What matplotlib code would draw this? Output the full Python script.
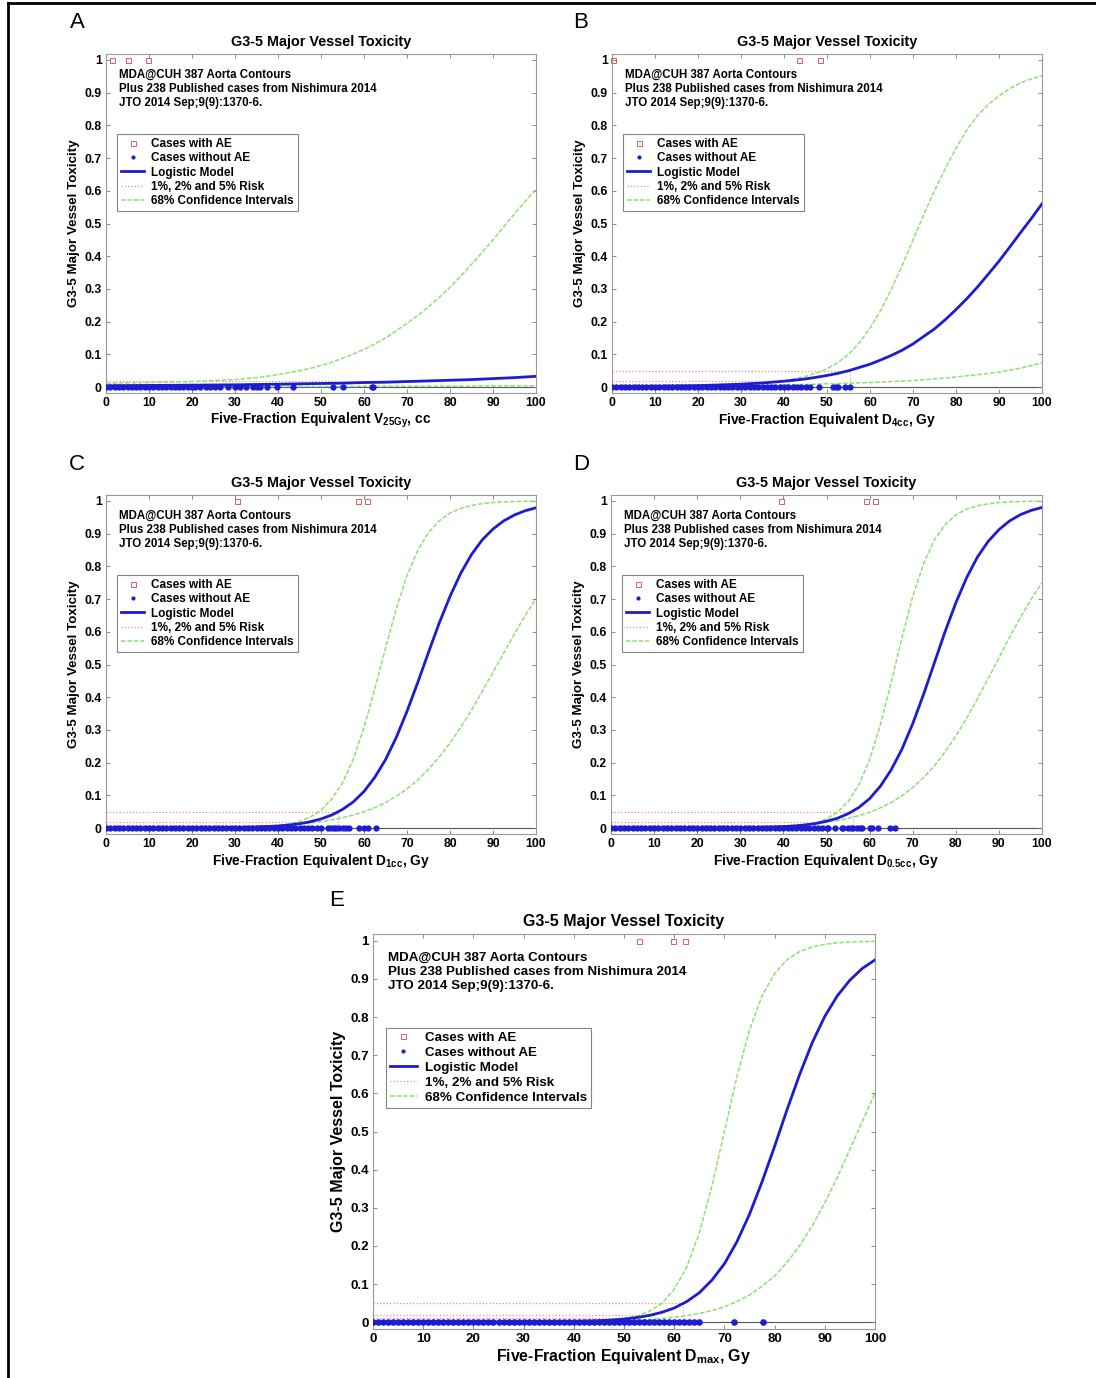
import matplotlib
matplotlib.use("Agg")
import matplotlib.pyplot as plt
from matplotlib.lines import Line2D

plt.rcParams['font.family'] = ['Liberation Sans', 'DejaVu Sans']
plt.rcParams['font.weight'] = 'bold'
plt.rcParams['mathtext.fontset'] = 'custom'
plt.rcParams['mathtext.rm'] = 'Liberation Sans:bold'
plt.rcParams['mathtext.it'] = 'Liberation Sans:bold'
plt.rcParams['mathtext.bf'] = 'Liberation Sans:bold'

W, H = 1096, 1378

# ---- data ----
DOSE = [0, 10, 20, 30, 35, 40, 42.5, 45, 47.5, 50, 52.5, 55, 57.5, 60, 62.5, 65, 67.5, 70,
        72.5, 75, 77.5, 80, 82.5, 85, 87.5, 90, 92.5, 95, 97.5, 100]
RISKS = [0.01, 0.02, 0.05]
X_TICKS = [0, 10, 20, 30, 40, 50, 60, 70, 80, 90, 100]
Y_TICKS = [0, 0.1, 0.2, 0.3, 0.4, 0.5, 0.6, 0.7, 0.8, 0.9, 1]
Y_TICK_LABELS = ['0', '0.1', '0.2', '0.3', '0.4', '0.5', '0.6', '0.7', '0.8', '0.9', '1']

# A: V25Gy
A_MODEL = [0.004, 0.005, 0.006, 0.007, 0.008, 0.009, 0.0095, 0.010, 0.0105, 0.011, 0.0115, 0.012,
           0.013, 0.014, 0.0145, 0.015, 0.016, 0.017, 0.018, 0.019, 0.020, 0.021, 0.022, 0.023,
           0.0245, 0.026, 0.0275, 0.029, 0.031, 0.033]
A_UPPER = [0.012, 0.014, 0.017, 0.023, 0.029, 0.038, 0.044, 0.050, 0.057, 0.066, 0.076, 0.088,
           0.101, 0.115, 0.132, 0.150, 0.172, 0.195, 0.219, 0.245, 0.274, 0.305, 0.339, 0.375,
           0.412, 0.450, 0.490, 0.530, 0.568, 0.605]
A_LOWER = [0.001, 0.001, 0.001, 0.002, 0.002, 0.002, 0.002, 0.002, 0.002, 0.002, 0.002, 0.002,
           0.002, 0.003, 0.003, 0.003, 0.003, 0.003, 0.003, 0.003, 0.003, 0.003, 0.003, 0.003,
           0.004, 0.004, 0.004, 0.004, 0.004, 0.004]
A_RISK_END = [45, 78, None]
A_WITH_AE = [1.3, 5.2, 9.8]
A_WITHOUT_AE = [0, 1, 2, 3, 4, 5, 6, 7, 8, 9, 10, 11, 12, 13, 14, 15, 16, 17, 18, 19, 20,
                20.7, 21.9, 23.2, 24.2, 25.3, 26.5, 28.3, 30, 31.2, 32.5, 34.3, 35.2, 35.8,
                37.4, 39.7, 43.6, 52.8, 55.1, 61.8, 62.1]

# B: D4cc
B_MODEL = [0.0011, 0.0022, 0.0044, 0.0089, 0.0126, 0.018, 0.0213, 0.025, 0.030, 0.0356, 0.042,
           0.050, 0.060, 0.070, 0.083, 0.097, 0.113, 0.132, 0.155, 0.178, 0.206, 0.237, 0.270,
           0.306, 0.345, 0.385, 0.428, 0.472, 0.515, 0.560]
B_UPPER = [0.001, 0.002, 0.004, 0.009, 0.013, 0.020, 0.026, 0.033, 0.043, 0.056, 0.075, 0.100,
           0.135, 0.180, 0.235, 0.300, 0.372, 0.450, 0.527, 0.600, 0.668, 0.730, 0.785, 0.830,
           0.864, 0.890, 0.912, 0.930, 0.942, 0.952]
B_LOWER = [0.002, 0.003, 0.004, 0.005, 0.006, 0.007, 0.0075, 0.008, 0.009, 0.010, 0.011, 0.012,
           0.013, 0.014, 0.0155, 0.017, 0.0185, 0.020, 0.0225, 0.025, 0.028, 0.031, 0.0345, 0.038,
           0.042, 0.046, 0.052, 0.058, 0.066, 0.074]
B_RISK_END = [31, 41, 55.3]
B_WITH_AE = [0.2, 43.6, 48.4]
B_WITHOUT_AE = [0, 1, 2, 3, 4, 5, 6, 7, 8, 9, 10, 11, 12, 13, 14, 15, 16, 17, 18, 19, 20,
                21, 22, 23, 24, 25, 26, 27, 28, 29, 30, 31, 32, 33, 34, 35, 36, 37, 38, 39,
                40, 41, 42, 43, 44, 45, 46, 48.2, 51.4, 52, 52.6, 54.2, 55.3]

# C: D1cc
C_MODEL = [0.00002, 0.00008, 0.0003, 0.0015, 0.0031, 0.0065, 0.0094, 0.0135, 0.0195, 0.028, 0.040,
           0.057, 0.080, 0.112, 0.155, 0.209, 0.277, 0.357, 0.445, 0.537, 0.627, 0.708, 0.779,
           0.836, 0.881, 0.914, 0.939, 0.957, 0.970, 0.979]
C_UPPER = [0.00001, 0.00002, 0.0001, 0.001, 0.0028, 0.0076, 0.0126, 0.0206, 0.034, 0.055, 0.089,
           0.138, 0.211, 0.307, 0.425, 0.550, 0.670, 0.772, 0.849, 0.903, 0.939, 0.963, 0.977,
           0.986, 0.9916, 0.995, 0.997, 0.998, 0.999, 0.999]
C_LOWER = [0.0002, 0.0005, 0.0012, 0.003, 0.0049, 0.0078, 0.0099, 0.0125, 0.0158, 0.0198, 0.025,
           0.0317, 0.040, 0.050, 0.0625, 0.078, 0.097, 0.120, 0.147, 0.180, 0.217, 0.260, 0.308,
           0.361, 0.418, 0.476, 0.535, 0.594, 0.650, 0.702]
C_RISK_END = [42.5, 47.5, 54]
C_WITH_AE = [30.5, 58.5, 60.7]
C_WITHOUT_AE = [0, 1, 2, 3, 4, 5, 6, 7, 8, 9, 10, 11, 12, 13, 14, 15, 16, 17, 18, 19, 20,
                21, 22, 23, 24, 25, 26, 27, 28, 29, 30, 31, 32, 33, 34, 35, 36, 37, 38, 39,
                40, 41, 42, 43, 44, 45, 46, 47, 48, 49, 50, 51.6, 52.3, 53.1, 53.5, 54.3,
                55, 55.8, 56.6, 58.9, 60.1, 60.9, 62.8]

# D: D0.5cc
D_MODEL = [0.00001, 0.00004, 0.0002, 0.0009, 0.0021, 0.0045, 0.0065, 0.0097, 0.014, 0.021, 0.030,
           0.044, 0.063, 0.090, 0.128, 0.178, 0.241, 0.319, 0.408, 0.504, 0.600, 0.688, 0.765,
           0.828, 0.876, 0.912, 0.939, 0.958, 0.971, 0.980]
D_UPPER = [0.0, 0.00001, 0.00004, 0.0003, 0.0011, 0.0032, 0.0055, 0.0096, 0.0165, 0.028, 0.048,
           0.081, 0.132, 0.209, 0.316, 0.445, 0.582, 0.707, 0.808, 0.880, 0.927, 0.957, 0.975,
           0.985, 0.991, 0.995, 0.997, 0.998, 0.999, 0.999]
D_LOWER = [0.0001, 0.0003, 0.0009, 0.0024, 0.004, 0.0066, 0.0085, 0.011, 0.014, 0.018, 0.023,
           0.030, 0.038, 0.048, 0.062, 0.078, 0.099, 0.124, 0.154, 0.190, 0.233, 0.281, 0.336,
           0.394, 0.457, 0.520, 0.584, 0.644, 0.700, 0.750]
D_RISK_END = [45, 49.5, 56.1]
D_WITH_AE = [39.4, 59.2, 61.3]
D_WITHOUT_AE = [0, 1, 2, 3, 4, 5, 6, 7, 8, 9, 10, 11, 12, 13, 14, 15, 16, 17, 18, 19, 20,
                21, 22, 23, 24, 25, 26, 27, 28, 29, 30, 31, 32, 33, 34, 35, 36, 37, 38, 39,
                40, 41, 42, 43, 44, 45, 46, 47, 48, 49, 50, 50.4, 52, 53.5, 53.9, 55.1, 55.8,
                56.2, 57, 57.8, 58.2, 60.1, 60.5, 62, 64.7, 65.9]

# E: Dmax
E_MODEL = [0.0, 0.00002, 0.00008, 0.0004, 0.0008, 0.0017, 0.0026, 0.0038, 0.0055, 0.0081, 0.0119,
           0.0175, 0.0256, 0.037, 0.054, 0.077, 0.110, 0.153, 0.211, 0.283, 0.368, 0.461, 0.558,
           0.650, 0.733, 0.802, 0.856, 0.897, 0.928, 0.950]
E_UPPER = [0.0, 0.00001, 0.00003, 0.0001, 0.0002, 0.0008, 0.0015, 0.0027, 0.0048, 0.0087, 0.0155,
           0.028, 0.049, 0.086, 0.144, 0.234, 0.356, 0.500, 0.644, 0.766, 0.856, 0.914, 0.951,
           0.972, 0.984, 0.991, 0.995, 0.997, 0.998, 0.999]
E_LOWER = [0.00001, 0.00003, 0.0001, 0.0004, 0.0007, 0.0012, 0.0016, 0.0022, 0.0029, 0.0039, 0.0052,
           0.007, 0.0094, 0.0126, 0.017, 0.0227, 0.030, 0.040, 0.054, 0.071, 0.094, 0.121, 0.157,
           0.201, 0.253, 0.313, 0.380, 0.453, 0.527, 0.600]
E_RISK_END = [50.5, 56, 61.7]
E_WITH_AE = [53, 59.8, 62.2]
E_WITHOUT_AE = [0, 1, 2, 3, 4, 5, 6, 7, 8, 9, 10, 11, 12, 13, 14, 15, 16, 17, 18, 19, 20,
                21, 22, 23, 24, 25, 26, 27, 28, 29, 30, 31, 32, 33, 34, 35, 36, 37, 38, 39,
                40, 41, 42, 43, 44, 45, 46, 47, 48, 49, 50, 51, 52, 53, 54, 55, 56, 57, 58,
                59, 60, 61, 62, 63, 64, 65, 72, 77.7]

XLABELS = ['Five-Fraction Equivalent V$_{25Gy}$, cc',
           'Five-Fraction Equivalent D$_{4cc}$, Gy',
           'Five-Fraction Equivalent D$_{1cc}$, Gy',
           'Five-Fraction Equivalent D$_{0.5cc}$, Gy',
           'Five-Fraction Equivalent D$_{max}$, Gy']
NOTE = 'MDA@CUH 387 Aorta Contours\nPlus 238 Published cases from Nishimura 2014\nJTO 2014 Sep;9(9):1370-6.'
LEGEND_LABELS = ['Cases with AE', 'Cases without AE', 'Logistic Model',
                 '1%, 2% and 5% Risk', '68% Confidence Intervals']

BLUE = '#1c1cd0'
GREEN = '#8ee070'
PINK = '#ee8c8c'
RED = '#e05a5a'
CI_LS = (0, (3, 1.2))

fig = plt.figure(figsize=(W / 100, H / 100), dpi=100)

# outer frame (only left and top edges are visible)
fig.add_artist(Line2D([8 / W, 8 / W], [0, 1 - 3 / H], transform=fig.transFigure, color='k', lw=2))
fig.add_artist(Line2D([8 / W, 1], [1 - 3 / H, 1 - 3 / H], transform=fig.transFigure, color='k', lw=2))


def add_panel(box, letter, letter_xy, model, upper, lower, risk_end, with_ae, without_ae,
              xlabel, big=False):
    left, right, top, bottom = box
    ax = fig.add_axes([left / W, 1 - bottom / H, (right - left) / W, (bottom - top) / H])
    if big:
        tick_fs, note_fs, leg_fs, title_fs, xl_fs, yl_fs, dot_ms = 9.6, 9.6, 9.6, 11.5, 11.4, 11.5, 7.5
    else:
        tick_fs, note_fs, leg_fs, title_fs, xl_fs, yl_fs, dot_ms = 8.8, 8.3, 8.5, 10.4, 9.9, 9.6, 7

    # risk levels
    for r, xe in zip(RISKS, risk_end):
        if xe is None:
            continue
        ax.plot([0, xe], [r, r], color=PINK, lw=0.9, ls=':', zorder=2)
        ax.plot([xe, xe], [0, r], color='#aaaaaa', lw=0.8, ls=':', zorder=2)
    ax.axhline(0, color='#555555', lw=0.8, zorder=1)

    ax.plot(DOSE, upper, color=GREEN, lw=1.1, ls=CI_LS, zorder=3)
    ax.plot(DOSE, lower, color=GREEN, lw=1.1, ls=CI_LS, zorder=3)
    ax.plot(DOSE, model, color=BLUE, lw=2.0, zorder=4)
    ax.plot(without_ae, [0] * len(without_ae), ls='none', marker='.', ms=dot_ms,
            color=BLUE, zorder=5)
    ax.plot(with_ae, [1] * len(with_ae), ls='none', marker='s', ms=3.6, mfc='none',
            mec=RED, mew=0.7, zorder=5, clip_on=False)

    ax.set_xlim(0, 100)
    ax.set_ylim(-0.018, 1.018)
    ax.set_xticks(X_TICKS)
    ax.set_xticklabels([str(t) for t in X_TICKS])
    ax.set_yticks(Y_TICKS)
    ax.set_yticklabels(Y_TICK_LABELS)
    ax.tick_params(direction='in', top=True, right=True, length=3, width=0.6,
                   color='#777777', labelsize=tick_fs, pad=3)
    for s in ax.spines.values():
        s.set_color('#999999')
        s.set_linewidth(0.8)

    ax.set_title('G3-5 Major Vessel Toxicity', fontsize=title_fs, fontweight='bold', pad=6)
    ax.set_xlabel(xlabel, fontsize=xl_fs, fontweight='bold', labelpad=1)
    ax.set_ylabel('G3-5 Major Vessel Toxicity', fontsize=yl_fs, fontweight='bold', labelpad=3)

    ax.text(0.03, 0.955, NOTE, transform=ax.transAxes, ha='left', va='top',
            fontsize=note_fs, fontweight='bold', linespacing=1.22)

    handles = [
        Line2D([], [], ls='none', marker='s', ms=3.6, mfc='none', mec=RED, mew=0.7),
        Line2D([], [], ls='none', marker='.', ms=4, color=BLUE),
        Line2D([], [], color=BLUE, lw=2.0),
        Line2D([], [], color=PINK, lw=0.9, ls=':'),
        Line2D([], [], color=GREEN, lw=1.1, ls=CI_LS),
    ]
    leg = ax.legend(handles, LEGEND_LABELS, loc='upper left', bbox_to_anchor=(0.026, 0.763),
                    fontsize=leg_fs, frameon=True, fancybox=False, borderpad=0.3,
                    labelspacing=0.2, handlelength=2.0, handletextpad=0.6,
                    borderaxespad=0)
    leg.get_frame().set_edgecolor('#666666')
    leg.get_frame().set_linewidth(0.8)

    fig.text(letter_xy[0] / W, 1 - letter_xy[1] / H, letter, fontsize=16, fontweight='normal',
             ha='center', va='center')
    return ax


add_panel((106, 536, 54, 393), 'A', (77, 23), A_MODEL, A_UPPER, A_LOWER, A_RISK_END,
          A_WITH_AE, A_WITHOUT_AE, XLABELS[0])
add_panel((612, 1042, 54, 393), 'B', (581, 23), B_MODEL, B_UPPER, B_LOWER, B_RISK_END,
          B_WITH_AE, B_WITHOUT_AE, XLABELS[1])
add_panel((106, 536, 495, 834), 'C', (77, 465), C_MODEL, C_UPPER, C_LOWER, C_RISK_END,
          C_WITH_AE, C_WITHOUT_AE, XLABELS[2])
add_panel((611, 1042, 495, 834), 'D', (581, 465), D_MODEL, D_UPPER, D_LOWER, D_RISK_END,
          D_WITH_AE, D_WITHOUT_AE, XLABELS[3])
add_panel((373, 875, 934, 1329), 'E', (337, 901), E_MODEL, E_UPPER, E_LOWER, E_RISK_END,
          E_WITH_AE, E_WITHOUT_AE, XLABELS[4], big=True)

fig.savefig('out.png', dpi=100)
